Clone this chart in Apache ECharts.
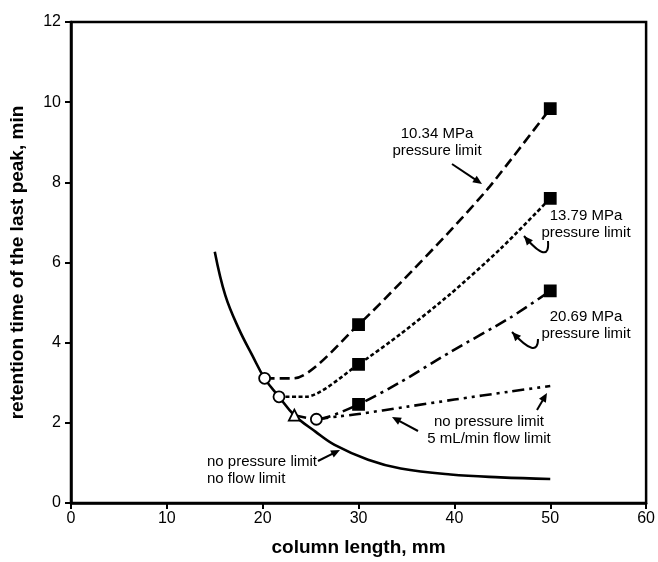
<!DOCTYPE html>
<html lang="en">
<head>
<meta charset="UTF-8">
<title>retention time vs column length</title>
<script src="https://cdn.jsdelivr.net/npm/echarts@6/dist/echarts.min.js"></script>
<style>
    html, body { margin: 0; padding: 0; background: #fff; }
    #main { width: 658px; height: 562px; }
</style>
</head>
<body>
<div id="main"></div>
<script>
// [column length mm, retention time min]
var noLimit = [[15, 6.27], [16.1, 5.18], [17.5, 4.35], [18.9, 3.69], [20.2, 3.11], [21.7, 2.65], [23.3, 2.19],
    [25.5, 1.78], [27.5, 1.45], [31, 1.08], [34.4, 0.86], [39.6, 0.71], [44.8, 0.64], [50, 0.6]];
var limit1034 = [[20.2, 3.11], [23.2, 3.11], [30, 4.45], [34.4, 5.5], [39.6, 6.8], [43.7, 7.9], [50, 9.84]];
var limit1379 = [[21.7, 2.65], [24.5, 2.65], [30, 3.46], [34.4, 4.22], [39.6, 5.22], [44.8, 6.34], [50, 7.6]];
var limit2069 = [[23.3, 2.19], [25.6, 2.09], [30, 2.46], [34.4, 3.02], [39.6, 3.77], [45.8, 4.62], [50, 5.29]];
var flowLimit = [[25.6, 2.09], [27.9, 2.16], [30, 2.22], [35, 2.4], [40, 2.58], [45.8, 2.78], [50, 2.92]];

var openCircles = [[20.2, 3.11], [21.7, 2.65], [25.6, 2.09]];
var openTriangles = [[23.3, 2.19]];
var filledSquares = [[30, 4.45], [30, 3.46], [30, 2.46], [50, 9.84], [50, 7.6], [50, 5.29]];

var xMin = 0, xMax = 60, xStep = 10;
var yMin = 0, yMax = 12, yStep = 2;

var FONT = '"Liberation Sans", Arial, sans-serif';

var myChart = echarts.init(document.getElementById('main'));

function curve(data, dash, smooth) {
    return {
        type: 'line',
        data: data,
        showSymbol: false,
        smooth: smooth,
        lineStyle: { color: '#000', width: 2.6, type: dash },
        z: 2,
        silent: true
    };
}

function marks(data, symbol, fill) {
    return {
        type: 'scatter',
        data: data,
        symbol: symbol,
        symbolSize: 11,
        itemStyle: { color: fill, borderColor: '#000', borderWidth: 1.8, opacity: 1 },
        z: 5,
        silent: true
    };
}

// annotation helpers (pixel positions)
function arrowHead(tx, ty, fx, fy) {
    var a = Math.atan2(ty - fy, tx - fx);
    var len = 9, w = 4;
    var bx = tx - len * Math.cos(a), by = ty - len * Math.sin(a);
    return {
        type: 'polygon',
        shape: { points: [[tx, ty], [bx - w * Math.sin(a), by + w * Math.cos(a)], [bx + w * Math.sin(a), by - w * Math.cos(a)]] },
        style: { fill: '#000' },
        z: 10
    };
}

function arrow(x1, y1, x2, y2) {
    var a = Math.atan2(y2 - y1, x2 - x1);
    return [{
        type: 'line',
        shape: { x1: x1, y1: y1, x2: x2 - 7 * Math.cos(a), y2: y2 - 7 * Math.sin(a) },
        style: { stroke: '#000', lineWidth: 2 },
        z: 10
    }, arrowHead(x2, y2, x1, y1)];
}

function hook(x1, y1, cx, cy, x2, y2) {
    return [{
        type: 'bezierCurve',
        shape: { x1: x1, y1: y1, x2: x2, y2: y2, cpx1: cx, cpy1: cy },
        style: { stroke: '#000', lineWidth: 2, fill: null },
        z: 10
    }, arrowHead(x2, y2, cx, cy)];
}

function label(x, y, txt, align) {
    return {
        type: 'text',
        x: x,
        y: y,
        style: {
            text: txt,
            font: '15px ' + FONT,
            fill: '#000',
            textAlign: align || 'center',
            textVerticalAlign: 'middle',
            lineHeight: 17
        },
        z: 10
    };
}

var graphics = [].concat(
    label(437, 142, '10.34 MPa\npressure limit'),
    arrow(452, 164, 482, 184),
    label(586, 224, '13.79 MPa\npressure limit'),
    hook(548, 241, 550, 266, 524, 236),
    label(586, 325, '20.69 MPa\npressure limit'),
    hook(538, 339, 538, 360, 512, 332),
    label(489, 430, 'no pressure limit\n5 mL/min flow limit'),
    arrow(418, 431, 392, 417),
    arrow(537, 410, 547, 393),
    label(207, 470, 'no pressure limit\nno flow limit', 'left'),
    arrow(318, 461, 340, 450)
);

var option = {
    animation: false,
    backgroundColor: '#fff',
    textStyle: { fontFamily: FONT },
    grid: {
        left: 68,
        right: 11,
        top: 22,
        bottom: 57,
        show: true,
        borderColor: '#000',
        borderWidth: 2.5,
        backgroundColor: 'transparent'
    },
    xAxis: {
        type: 'value',
        min: xMin,
        max: xMax,
        interval: xStep,
        name: 'column length, mm',
        nameLocation: 'middle',
        nameGap: 35,
        nameTextStyle: { fontSize: 19, fontWeight: 'bold', color: '#000', fontFamily: FONT },
        axisLine: { lineStyle: { color: '#000', width: 2.5 } },
        axisTick: { length: 6, lineStyle: { color: '#000', width: 2 } },
        axisLabel: { fontSize: 16, color: '#000', margin: 8, fontFamily: FONT },
        splitLine: { show: false }
    },
    yAxis: {
        type: 'value',
        min: yMin,
        max: yMax,
        interval: yStep,
        name: 'retention time of the last peak, min',
        nameLocation: 'middle',
        nameGap: 44,
        nameTextStyle: { fontSize: 19, fontWeight: 'bold', color: '#000', fontFamily: FONT },
        axisLine: { lineStyle: { color: '#000', width: 2.5 } },
        axisTick: { length: 6, lineStyle: { color: '#000', width: 2 } },
        axisLabel: { fontSize: 16, color: '#000', margin: 10, fontFamily: FONT },
        splitLine: { show: false }
    },
    series: [
        curve(noLimit, 'solid', 0.4),
        curve(limit1034, [10, 5], 0.25),
        curve(limit1379, [4, 2.5], 0.25),
        curve(limit2069, [12, 5, 3, 5], 0.25),
        curve(flowLimit, [12, 5, 3, 5, 3, 5], 0.3),
        marks(openCircles, 'circle', '#fff'),
        marks(openTriangles, 'triangle', '#fff'),
        marks(filledSquares, 'rect', '#000')
    ],
    graphic: graphics
};

myChart.setOption(option);
</script>
</body>
</html>
